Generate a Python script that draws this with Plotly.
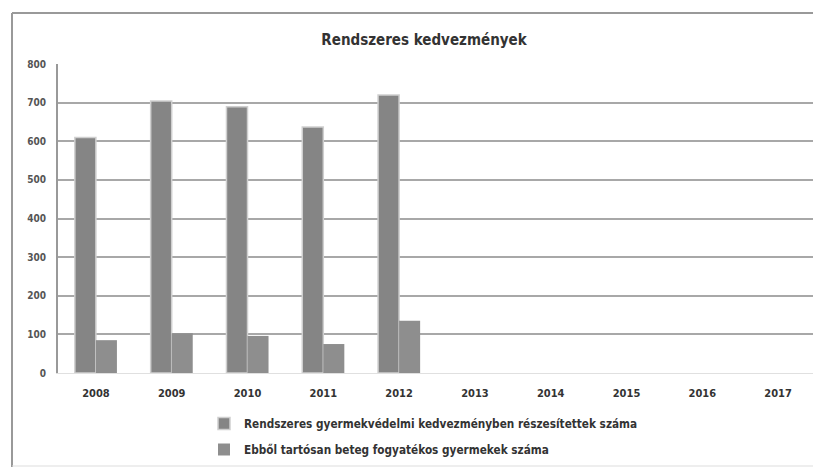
import plotly.graph_objects as go

years = ["2008", "2009", "2010", "2011", "2012", "2013", "2014", "2015", "2016", "2017"]
rendszeres = [610, 704, 689, 637, 720, None, None, None, None, None]
tartosan = [85, 103, 96, 75, 135, None, None, None, None, None]
y_ticks = [0, 100, 200, 300, 400, 500, 600, 700, 800]

name1 = "Rendszeres gyermekvédelmi kedvezményben részesítettek száma"
name2 = "Ebből tartósan beteg fogyatékos gyermekek száma"

FONT = "DejaVu Sans Condensed, DejaVu Sans, sans-serif"

# page body has an 8px margin -> figure coordinates are offset by 8px;
# figure sized to fit the window without scrollbars
L, R, T, B = 50, 808, 56, 365
W, H = 813, 460
PW, PH = R - L, B - T

def px_x(v):
    return (v - L) / PW

def px_y(v):
    return (B - v) / PH

fig = go.Figure()
fig.add_trace(go.Bar(x=years, y=rendszeres, name=f"<b>{name1}</b>", legendgroup="a",
                     marker=dict(color="#858585", line=dict(color="#cfcfcf", width=1.5))))
fig.add_trace(go.Bar(x=years, y=tartosan, name=f"<b>{name2}</b>", legendgroup="b",
                     marker=dict(color="#8e8e8e", line=dict(color="#8e8e8e", width=0))))

border = dict(color="#999999", width=2)
fig.update_layout(
    width=W, height=H,
    margin=dict(l=L, r=W - R, t=T, b=H - B, autoexpand=False),
    paper_bgcolor="white", plot_bgcolor="white",
    barmode="group", bargap=0.445, bargroupgap=0,
    title=dict(text="<b>Rendszeres kedvezmények</b>", x=px_x(416), xref="paper", xanchor="center",
               y=1 - 32 / H, yanchor="middle",
               font=dict(family=FONT, size=15, color="#333333")),
    font=dict(family=FONT, color="#333333"),
    showlegend=True,
    legend=dict(orientation="v", x=px_x(196), xanchor="left", y=px_y(401), yanchor="top",
                font=dict(family=FONT, size=11.7, color="#333333"),
                itemwidth=30, tracegroupgap=7, bgcolor="rgba(0,0,0,0)"),
    xaxis=dict(type="category", tickvals=years, ticktext=[f"<b>{y}</b>" for y in years],
               tickfont=dict(family=FONT, size=11, color="#333333"),
               showgrid=False, showline=True, linecolor="#e0e0e0", linewidth=1,
               ticks="", ticklabelstandoff=10),
    yaxis=dict(range=[0, 800], tickvals=y_ticks, ticktext=[f"<b>{v}</b>" for v in y_ticks],
               tickfont=dict(family=FONT, size=10, color="#555555"),
               showgrid=True, gridcolor="#a8a8a8", gridwidth=2,
               showline=True, linecolor="#999999", linewidth=2,
               zeroline=False, ticks="", ticklabelstandoff=8),
    shapes=[
        dict(type="line", xref="paper", yref="paper", x0=px_x(4), x1=px_x(W + 20),
             y0=px_y(5), y1=px_y(5), line=border, layer="below"),
        dict(type="line", xref="paper", yref="paper", x0=px_x(4), x1=px_x(4),
             y0=px_y(5), y1=px_y(459), line=border, layer="below"),
        dict(type="line", xref="paper", yref="paper", x0=px_x(4), x1=px_x(W + 20),
             y0=px_y(458), y1=px_y(458), line=dict(color="#dddddd", width=1), layer="below"),
    ],
)

fig.write_html("out.html")
